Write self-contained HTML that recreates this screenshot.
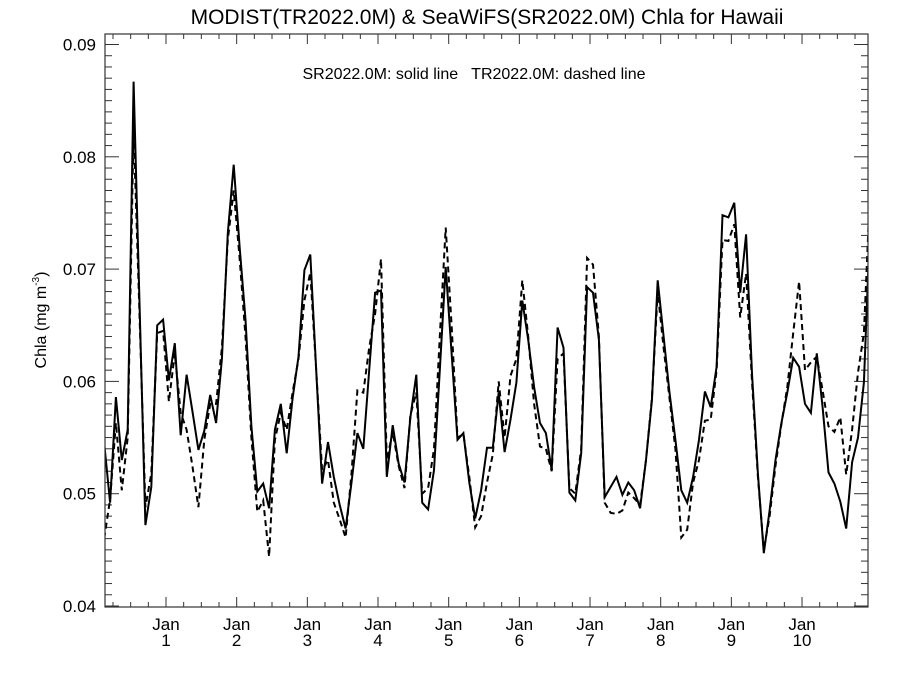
<!DOCTYPE html>
<html><head><meta charset="utf-8"><style>
body{margin:0;background:#fff}
svg{display:block;font-family:"Liberation Sans",sans-serif}
</style></head><body>
<svg id="chart" width="900" height="675" viewBox="0 0 900 675">
<rect width="900" height="675" fill="#fff"/>
<text x="487" y="24" font-size="21" text-anchor="middle">MODIST(TR2022.0M) &amp; SeaWiFS(SR2022.0M)  Chla for Hawaii</text>
<text x="474" y="79" font-size="16" text-anchor="middle" xml:space="preserve">SR2022.0M: solid line   TR2022.0M: dashed line</text>
<text transform="translate(46,320) rotate(-90)" font-size="16" text-anchor="middle">Chla (mg m<tspan font-size="10" dy="-7">-3</tspan><tspan dy="7">)</tspan></text>
<g id="ticks"></g>
<g id="series"></g>
<rect x="105" y="34" width="763" height="573" fill="none" stroke="#333" stroke-width="1.2"/>
</svg>
<script>
// month index m relative to January of year 1; first value is m = -11
const startMonth = -11;
const solidValues = [0.0545,0.0492,0.0586,0.053,0.0557,0.0867,0.067,0.0472,0.0506,0.065,0.0655,
0.0601,0.0634,0.0552,0.0606,0.0573,0.0539,0.0556,0.0588,0.0563,0.062,0.0732,0.0793,
0.072,0.0655,0.056,0.0502,0.0509,0.0487,0.0557,0.058,0.0536,0.0585,0.0622,0.0699,
0.0713,0.061,0.0509,0.0546,0.0515,0.049,0.0469,0.051,0.0554,0.054,0.061,0.0679,
0.0681,0.0515,0.0561,0.0527,0.051,0.0568,0.0606,0.0492,0.0486,0.0521,0.061,0.0702,
0.0625,0.0548,0.0554,0.051,0.0478,0.0503,0.0541,0.0541,0.059,0.0537,0.0566,0.0599,
0.0672,0.0637,0.0595,0.0563,0.0554,0.0521,0.0648,0.063,0.0501,0.0494,0.0536,0.0684,
0.0679,0.0637,0.0497,0.0506,0.0515,0.0499,0.051,0.0503,0.0487,0.053,0.0583,0.069,
0.064,0.059,0.0548,0.0503,0.0492,0.0515,0.0548,0.0591,0.0577,0.0613,0.0748,0.0746,
0.0759,0.0679,0.0731,0.0607,0.0518,0.0447,0.0485,0.053,0.0563,0.059,0.0621,0.0613,
0.058,0.0572,0.0625,0.0577,0.0519,0.0509,0.0493,0.0469,0.0528,0.055,0.0599,0.0735];
const dashedValues = [0.046,0.0495,0.0563,0.0503,0.055,0.0825,0.066,0.0488,0.0518,0.0643,0.0645,
0.0582,0.0625,0.0572,0.0557,0.0524,0.0488,0.0548,0.058,0.058,0.063,0.0726,0.077,
0.071,0.064,0.055,0.0484,0.0494,0.0444,0.0548,0.0572,0.0557,0.059,0.062,0.0672,
0.0697,0.061,0.0521,0.053,0.0492,0.0477,0.0461,0.0518,0.0592,0.059,0.063,0.066,
0.0709,0.053,0.0555,0.0525,0.0505,0.057,0.059,0.05,0.0505,0.054,0.064,0.0737,
0.065,0.055,0.0553,0.0515,0.047,0.048,0.051,0.0535,0.06,0.055,0.0605,0.062,
0.069,0.064,0.058,0.0542,0.054,0.052,0.062,0.0625,0.0505,0.05,0.054,0.071,
0.0704,0.064,0.0492,0.0483,0.0482,0.0485,0.0501,0.0496,0.049,0.053,0.0585,0.068,
0.063,0.0585,0.054,0.0461,0.0468,0.051,0.053,0.0565,0.0566,0.061,0.0726,0.0725,
0.074,0.0657,0.0696,0.06,0.0515,0.045,0.048,0.0525,0.0562,0.0595,0.0643,0.0689,
0.061,0.0617,0.0622,0.0592,0.056,0.0555,0.0568,0.0517,0.0557,0.0608,0.0643,0.0765];
const yTickValues = [0.04,0.05,0.06,0.07,0.08,0.09];
const yTickLabels = ["0.04","0.05","0.06","0.07","0.08","0.09"];
const xTickYears = [1,2,3,4,5,6,7,8,9,10];

const NS="http://www.w3.org/2000/svg";
const L=105,R=868,T=34,B=607;
const xJan1=166, monthPx=70.67/12;
function xPos(monthCenter){return xJan1+monthCenter*monthPx;}
function yPos(v){return 606-(v-0.04)*11230;}
function mk(tag,attrs,parent){const e=document.createElementNS(NS,tag);for(const k in attrs)e.setAttribute(k,attrs[k]);parent.appendChild(e);return e;}
const tg=document.getElementById('ticks');
// y minor/major ticks
for(let k=0;k<=51;k++){
  const v=0.04+k*0.001; if(v>0.0905)break;
  const y=yPos(v); const major=k%10===0; const len=major?14:7;
  mk('line',{x1:L,x2:L+len,y1:y,y2:y,stroke:'#333','stroke-width':1},tg);
  mk('line',{x1:R,x2:R-len,y1:y,y2:y,stroke:'#333','stroke-width':1},tg);
}
yTickValues.forEach((v,i)=>{
  const t=mk('text',{x:96,y:yPos(v)+6,'font-size':17,'text-anchor':'end'},tg);
  
  
  t.textContent=yTickLabels[i];
});
// x ticks: quarters
for(let q=-4;q<=40;q++){
  const x=xPos(q*3); if(x<L||x>R)continue;
  const major=q%4===0; const len=major?10:5;
  mk('line',{x1:x,x2:x,y1:B,y2:B-len,stroke:'#333','stroke-width':1},tg);
  mk('line',{x1:x,x2:x,y1:T,y2:T+len,stroke:'#333','stroke-width':1},tg);
}
xTickYears.forEach(yr=>{
  const x=xPos((yr-1)*12);
  const t1=mk('text',{x:x,y:630,'font-size':17,'text-anchor':'middle'},tg);
  
  
  t1.textContent='Jan';
  const t2=mk('text',{x:x,y:646,'font-size':17,'text-anchor':'middle'},tg);
  
  
  t2.textContent=String(yr);
});
const sg=document.getElementById('series');
mk('clipPath',{id:'pc'},sg).appendChild(Object.assign(document.createElementNS(NS,'rect'),{}));
const cr=sg.querySelector('clipPath rect');cr.setAttribute('x',L);cr.setAttribute('y',T);cr.setAttribute('width',R-L);cr.setAttribute('height',B-T);
function pts(arr){return arr.map((v,i)=>xPos(startMonth+i+0.5).toFixed(1)+','+yPos(v).toFixed(1)).join(' ');}
const d=mk('polyline',{points:pts(dashedValues),fill:'none',stroke:'#000','stroke-width':2,'stroke-dasharray':'6,4','clip-path':'url(#pc)'},sg);


const s=mk('polyline',{points:pts(solidValues),fill:'none',stroke:'#000','stroke-width':2,'stroke-linejoin':'miter','clip-path':'url(#pc)'},sg);


</script>
</body></html>
